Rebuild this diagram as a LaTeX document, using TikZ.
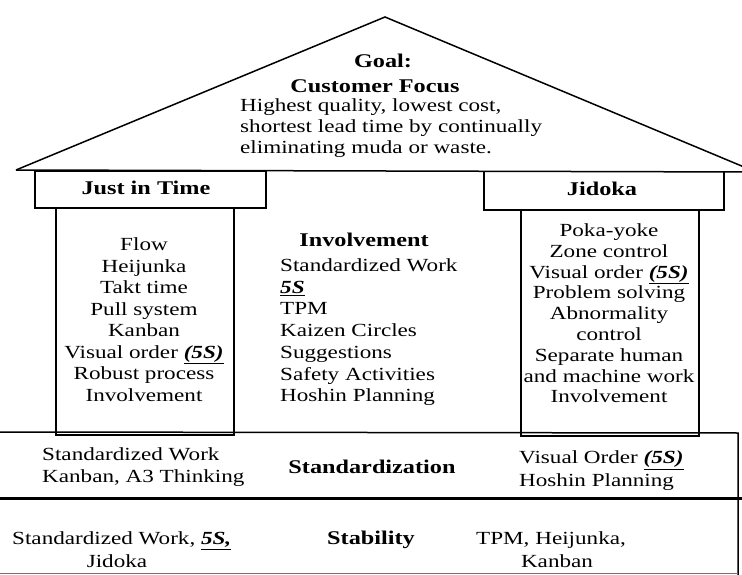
\documentclass[tikz,border=0pt]{standalone}
\usepackage{fontspec}
\setmainfont{Liberation Serif}[FakeStretch=1.25]
\newcommand{\fiveS}[1]{\underline{\textbf{\textit{#1}}}}
\begin{document}
\begin{tikzpicture}[x=1pt,y=-1pt,
  every node/.style={inner sep=0pt, text height=13pt, text depth=4pt, font=\fontsize{18.5}{21.5}\selectfont},
  hd/.style={font=\fontsize{19.4}{22}\selectfont\bfseries},
  rooftxt/.style={anchor=west},
  frame/.style={draw, line width=1.5pt},
  boxnode/.style={frame, anchor=north west, text height=, text depth=, minimum width=#1},
  item/.style={anchor=center},
  litem/.style={anchor=west}]
\useasboundingbox (0,0) rectangle (742,575);
\clip (0,0) rectangle (742,575);

% roof
\coordinate (apex) at (385,17);
\coordinate (rl) at (16,170);
\coordinate (rr) at (756,172);
\draw[frame, line join=miter] (rl) -- (apex) -- (rr);
\draw[frame] (rl) -- (rr);

% title boxes and pillars
\node[boxnode=231pt, minimum height=36pt] (jitbox) at (34,171) {};
\node[boxnode=178pt, minimum height=227pt] (lp) at (55,207) {};
\node[boxnode=240pt, minimum height=38pt] (jidbox) at (483,171) {};
\node[boxnode=178pt, minimum height=226pt] (rp) at (520,209) {};

% foundation lines
\coordinate (bl) at (0,432);
\coordinate (br) at (738,433);
\coordinate (brb) at (738,580);
\draw[frame] (bl) -- (br) -- (brb);
\coordinate (tl) at (0,498);
\coordinate (tr) at (742,498);
\draw[line width=3pt] (tl) -- (tr);
\coordinate (fl) at (0,573);
\coordinate (fr) at (738,573);
\draw[line width=1pt, black!55] (fl) -- (fr);

% roof text
\node[hd] (goal) at (383,63) {Goal:};
\node[hd] (cf) at (375,88) {Customer Focus};
\node[rooftxt] (r1) at (240,107) {Highest quality, lowest cost,};
\node[rooftxt] (r2) at (240,128) {shortest lead time by continually};
\node[rooftxt] (r3) at (240,149) {eliminating muda or waste.};

% titles
\node[hd] (jit) at (146,190) {Just in Time};
\node[hd] (jid) at (602,191) {Jidoka};

% left pillar
\foreach \t [count=\i] in {Flow,Heijunka,Takt time,Pull system,Kanban,{Visual order \fiveS{(5S)}},Robust process,Involvement}
  \node[item] (lp\i) at (144,{246+21.5*(\i-1)}) {\t};

% centre
\node[hd] (inv) at (364,242) {Involvement};
\foreach \t [count=\i] in {Standardized Work,\fiveS{5S},TPM,Kaizen Circles,Suggestions,Safety Activities,Hoshin Planning}
  \node[litem] (c\i) at (280,{267+21.7*(\i-1)}) {\t};

% right pillar
\foreach \t [count=\i] in {Poka-yoke,Zone control,{Visual order \fiveS{(5S)}},Problem solving,Abnormality,control,Separate human,and machine work,Involvement}
  \node[item] (rp\i) at (609,{232+20.8*(\i-1)}) {\t};

% standardization band
\node[litem] (s1) at (42,456) {Standardized Work};
\node[litem] (s2) at (42,478) {Kanban, A3 Thinking};
\node[hd] (std) at (372,469) {Standardization};
\node[litem] (s3) at (519,459) {Visual Order \fiveS{(5S)}};
\node[litem] (s4) at (519,482) {Hoshin Planning};

% stability band
\node[litem] (t1) at (12,540) {Standardized Work, \fiveS{5S,}};
\node[item] (t2) at (117,563) {Jidoka};
\node[hd] (stab) at (371,540) {Stability};
\node[litem] (t3) at (476,540) {TPM, Heijunka,};
\node[item] (t4) at (557,563) {Kanban};
\end{tikzpicture}
\end{document}
